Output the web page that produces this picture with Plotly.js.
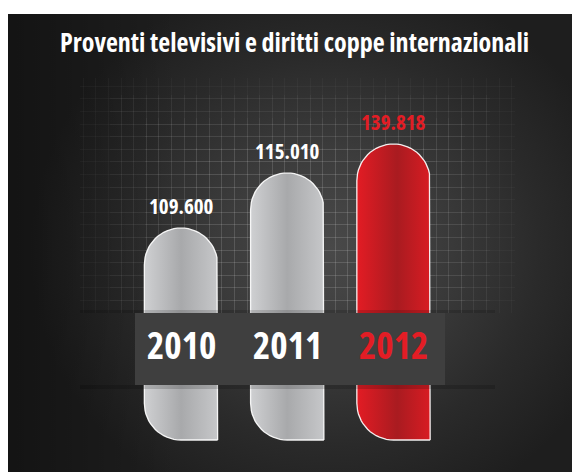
<!DOCTYPE html>
<html><head><meta charset="utf-8">
<script src="https://cdn.plot.ly/plotly-3.0.1.min.js"></script>
<style>
html,body{margin:0;padding:0;background:#fff;}
svg text{font-stretch:condensed !important;}
#wrap{position:relative;width:572px;height:472px;overflow:hidden;}
#bg{position:absolute;left:8px;top:14px;width:564px;height:458px;
background:
 linear-gradient(to right, rgba(0,0,0,0.35) 0%, rgba(0,0,0,0) 30%),
 radial-gradient(ellipse 300px 280px at 322px 236px, #494949 0%, #3c3c3c 35%, #2a2a2a 70%, #1e1e1e 100%);}
#chart{position:absolute;left:0;top:0;width:572px;height:472px;}
</style></head>
<body><div id="wrap"><div id="bg"></div><div id="chart"></div></div>
<script>
// ---- data ----
const titleText = 'Proventi televisivi e diritti coppe internazionali';
const years = ['2010', '2011', '2012'];
const values = [109.600, 115.010, 139.818];
const valueLabels = ['109.600', '115.010', '139.818'];
// drawn bar heights (the infographic is not to scale)
const barHeights = [212, 267, 296];
const highlighted = [false, false, true];

// ---- styling / layout ----
const FONT = 'Open Sans, Roboto Condensed, sans-serif';
const RED = '#e31d25';
const W = 572, H = 472, ML = 8, MT = 14;
const plotW = W - ML, plotH = H - MT;
const xr = [-1.6282, 3.68], yr = [-32, 426];
const pxPerX = plotW / (xr[1] - xr[0]);
const pxPerY = plotH / (yr[1] - yr[0]);
const toX = px => xr[0] + (px - ML) / pxPerX;          // pixel -> bar-axis x
const toY = py => yr[1] - (py - MT) / pxPerY;          // pixel -> bar-axis y
const barW = 0.69;

function barPath(i, h) {
  const hw = barW / 2, rx = hw, ry = hw * pxPerX / pxPerY;
  const xs = [], ys = [], N = 32;
  xs.push(i + hw); ys.push(0);
  xs.push(i + hw); ys.push(h - ry);
  for (let k = 0; k <= N; k++) {
    const a = Math.PI * k / N;
    xs.push(i + rx * Math.cos(a)); ys.push(h - ry + ry * Math.sin(a));
  }
  xs.push(i - hw); ys.push(ry);
  for (let k = 0; k <= N / 2; k++) {
    const a = Math.PI + (Math.PI / 2) * k / (N / 2);
    xs.push(i - hw + rx + rx * Math.cos(a)); ys.push(ry + ry * Math.sin(a));
  }
  xs.push(i + hw); ys.push(0);
  return {xs, ys};
}

const greyScale = [[0, '#cfd0d2'], [0.5, '#a8a9ab'], [1, '#c6c7c9']];
const redScale = [[0, '#e31c24'], [0.55, '#a91b20'], [1, '#d81c23']];

const traces = [];
const layout = {
  width: W, height: H,
  margin: {l: ML, r: 0, t: MT, b: 0, pad: 0},
  paper_bgcolor: 'rgba(0,0,0,0)', plot_bgcolor: 'rgba(0,0,0,0)',
  showlegend: false,
  title: {text: titleText, font: {family: FONT, size: 26, color: '#ffffff', weight: 'bold'},
          xref: 'container', yref: 'container', x: 294.5 / W, y: 1 - 43 / H, xanchor: 'center', yanchor: 'middle'},
  shapes: [], annotations: []
};

// faded background grid: nested grid subplots, alphas add up toward the centre
const gridLevels = [
  {x: [80, 515], y: [78, 313], a: 0.03},
  {x: [110, 490], y: [95, 313], a: 0.04},
  {x: [145, 465], y: [118, 313], a: 0.045},
  {x: [185, 435], y: [148, 313], a: 0.045}
];
gridLevels.forEach((g, k) => {
  const n = k === 0 ? '' : String(k + 1);
  traces.push({type: 'scatter', x: [], y: [], xaxis: 'x' + n, yaxis: 'y' + n, hoverinfo: 'skip'});
  const common = {showticklabels: false, zeroline: false, showline: false, ticks: '',
                  showgrid: true, gridcolor: 'rgba(255,255,255,' + g.a + ')', gridwidth: 1, fixedrange: true};
  layout['xaxis' + n] = Object.assign({}, common, {
    domain: [(g.x[0] - ML) / plotW, (g.x[1] - ML) / plotW], range: g.x,
    tick0: 436, dtick: 12.6, anchor: 'y' + n});
  layout['yaxis' + n] = Object.assign({}, common, {
    domain: [(H - g.y[1]) / plotH, (H - g.y[0]) / plotH], range: [g.y[1], g.y[0]],
    tick0: 313, dtick: 12.6, anchor: 'x' + n});
});

// bars subplot (drawn last, on top of the grid)
const hidden = {visible: true, showticklabels: false, showgrid: false, zeroline: false, showline: false, ticks: '', fixedrange: true};
layout.xaxis5 = Object.assign({}, hidden, {domain: [0, 1], range: xr, anchor: 'y5'});
layout.yaxis5 = Object.assign({}, hidden, {domain: [0, 1], range: yr, anchor: 'x5'});

years.forEach((yr_, i) => {
  const p = barPath(i, barHeights[i]);
  traces.push({
    type: 'scatter', mode: 'lines', x: p.xs, y: p.ys, xaxis: 'x5', yaxis: 'y5',
    fill: 'toself', fillcolor: highlighted[i] ? '#c41b22' : '#b8b9bb',
    fillgradient: {type: 'horizontal', start: i - barW / 2, stop: i + barW / 2,
                   colorscale: highlighted[i] ? redScale : greyScale},
    line: {color: 'rgba(255,255,255,0.92)', width: 1.3}, hoverinfo: 'skip'
  });
  layout.annotations.push({
    x: i, y: barHeights[i], xref: 'x5', yref: 'y5', text: valueLabels[i],
    showarrow: false, yanchor: 'bottom', yshift: 6,
    font: {family: FONT, size: 21, color: highlighted[i] ? RED : '#ffffff', weight: 'bold'}
  });
  layout.annotations.push({
    x: i, y: toY(344), xref: 'x5', yref: 'y5', text: yr_,
    showarrow: false, yanchor: 'middle',
    font: {family: FONT, size: 37, color: highlighted[i] ? RED : '#ffffff', weight: 'bold'}
  });
});

// band with soft shadows
layout.shapes.push(
  {type: 'rect', xref: 'x5', yref: 'y5', x0: toX(80), x1: toX(495), y0: toY(313), y1: toY(310),
   fillcolor: 'rgba(0,0,0,0.14)', line: {width: 0}, layer: 'above'},
  {type: 'rect', xref: 'x5', yref: 'y5', x0: toX(80), x1: toX(495), y0: toY(389), y1: toY(385),
   fillcolor: 'rgba(0,0,0,0.16)', line: {width: 0}, layer: 'above'},
  {type: 'rect', xref: 'x5', yref: 'y5', x0: toX(135), x1: toX(445), y0: toY(385), y1: toY(313),
   fillcolor: '#3f3f3f', line: {width: 0}, layer: 'above'}
);

Plotly.newPlot('chart', traces, layout, {displayModeBar: false, staticPlot: true});
</script>
</body></html>
